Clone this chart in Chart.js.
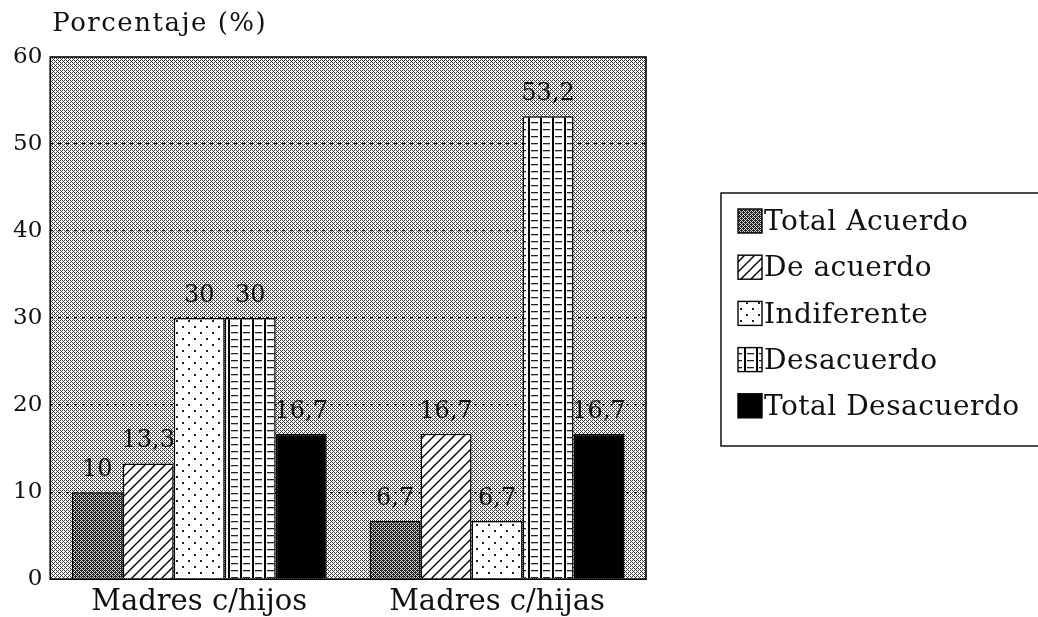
<!DOCTYPE html>
<html>
<head>
<meta charset="utf-8">
<script src="https://cdn.jsdelivr.net/npm/chart.js@4/dist/chart.umd.min.js"></script>
<style>
  html, body { margin: 0; padding: 0; background: #fff; }
  #wrap { width: 1038px; height: 617px; position: relative; }
</style>
</head>
<body>
<div id="wrap"><canvas id="c" width="1038" height="617"></canvas></div>
<script>
// Categories, series and axis ticks
const categories = ['Madres c/hijos', 'Madres c/hijas'];
const seriesNames = ['Total Acuerdo', 'De acuerdo', 'Indiferente', 'Desacuerdo', 'Total Desacuerdo'];
const totalAcuerdo    = [10, 6.7];
const deAcuerdo       = [13.3, 16.7];
const indiferente     = [30, 6.7];
const desacuerdo      = [30, 53.2];
const totalDesacuerdo = [16.7, 16.7];
const yTicks = [0, 10, 20, 30, 40, 50, 60];
const yTitle = 'Porcentaje (%)';

const SERIF = '"DejaVu Serif", "Liberation Serif", serif';

// Small repeating tiles used as fills
function tile(w, h, paint) {
  const c = document.createElement('canvas');
  c.width = w; c.height = h;
  const g = c.getContext('2d');
  paint(g, w, h);
  return g.createPattern(c, 'repeat');
}
function bitmap(rows, on, off) {
  return tile(rows[0].length, rows.length, (g) => {
    rows.forEach((r, y) => {
      for (let x = 0; x < r.length; x++) {
        g.fillStyle = r[x] === '1' ? on : off;
        g.fillRect(x, y, 1, 1);
      }
    });
  });
}

// halftone screen behind the bars
const plotScreen = bitmap(['1010', '0001', '1010', '0100'], '#3a3a3a', '#ffffff');
// mottled dark screen
const darkScreen = bitmap(['1011', '0101', '1110', '0101'], '#202020', '#d8d8d8');
// diagonal hatch
const diagHatch = tile(10, 10, (g, w, h) => {
  g.fillStyle = '#fff'; g.fillRect(0, 0, w, h);
  g.strokeStyle = '#000'; g.lineWidth = 1.4;
  g.beginPath();
  g.moveTo(-1, h + 1); g.lineTo(w + 1, -1);
  g.moveTo(-1, 1); g.lineTo(1, -1);
  g.moveTo(w - 1, h + 1); g.lineTo(w + 1, h - 1);
  g.stroke();
});
// sparse dots
const dotScreen = tile(12, 12, (g, w, h) => {
  g.fillStyle = '#fff'; g.fillRect(0, 0, w, h);
  g.fillStyle = '#222';
  g.fillRect(2, 2, 2, 2);
  g.fillRect(8, 8, 2, 2);
});
// grid of vertical lines and horizontal dashes
const gridHatch = tile(12, 7, (g, w, h) => {
  g.fillStyle = '#fff'; g.fillRect(0, 0, w, h);
  g.fillStyle = '#000';
  g.fillRect(0, 0, 2, h);
  g.fillStyle = '#222';
  g.fillRect(3, 3, 7, 1.3);
});

const fills = [darkScreen, diagHatch, dotScreen, gridHatch, '#000'];
const values = [totalAcuerdo, deAcuerdo, indiferente, desacuerdo, totalDesacuerdo];

const datasets = seriesNames.map((name, i) => ({
  label: name,
  data: values[i],
  backgroundColor: fills[i],
  borderColor: '#000',
  borderWidth: 1.5,
  borderSkipped: 'bottom',
  categoryPercentage: 0.856,
  barPercentage: 1.0
}));

const fmt = (v) => String(v).replace('.', ',');

const decorations = {
  id: 'decorations',
  beforeDraw(chart) {
    const { ctx, chartArea: a } = chart;
    ctx.save();
    ctx.fillStyle = plotScreen;
    ctx.fillRect(a.left, a.top, a.right - a.left, a.bottom - a.top);
    ctx.restore();
  },
  afterDatasetsDraw(chart) {
    const { ctx } = chart;
    ctx.save();
    ctx.font = '24px ' + SERIF;
    ctx.fillStyle = '#111';
    ctx.textAlign = 'center';
    ctx.textBaseline = 'alphabetic';
    chart.data.datasets.forEach((ds, di) => {
      chart.getDatasetMeta(di).data.forEach((bar, i) => {
        ctx.fillText(fmt(ds.data[i]), bar.x, bar.y - 16);
      });
    });
    ctx.restore();
  },
  afterDraw(chart) {
    const { ctx, chartArea: a } = chart;
    ctx.save();
    // plot frame
    ctx.strokeStyle = '#000';
    ctx.lineWidth = 1.6;
    ctx.strokeRect(a.left, a.top, a.right - a.left, a.bottom - a.top);

    // axis title above the plot
    ctx.font = '26px ' + SERIF;
    ctx.letterSpacing = '1.5px';
    ctx.fillStyle = '#111';
    ctx.textAlign = 'left';
    ctx.textBaseline = 'alphabetic';
    ctx.fillText(yTitle, a.left + 2, a.top - 26);

    // legend box
    const bx = a.right + 75, by = a.top + 136, bh = 253;
    ctx.lineWidth = 1.4;
    ctx.strokeRect(bx, by, 1038 - bx + 4, bh);
    ctx.font = '28px ' + SERIF;
    ctx.letterSpacing = '0.5px';
    ctx.textBaseline = 'middle';
    chart.data.datasets.forEach((ds, i) => {
      const cy = by + 28 + i * 46.2;
      ctx.fillStyle = ds.backgroundColor;
      ctx.fillRect(bx + 17, cy - 12, 24, 24);
      ctx.lineWidth = 1.4;
      ctx.strokeRect(bx + 17, cy - 12, 24, 24);
      ctx.fillStyle = '#111';
      ctx.fillText(ds.label, bx + 43, cy + 2);
    });
    ctx.restore();
  }
};

new Chart(document.getElementById('c'), {
  type: 'bar',
  data: { labels: categories, datasets },
  options: {
    responsive: false,
    animation: false,
    layout: { padding: { left: 5, right: 392, top: 57, bottom: -1 } },
    plugins: {
      legend: { display: false },
      tooltip: { enabled: false },
      title: { display: false }
    },
    scales: {
      x: {
        grid: { display: false },
        border: { display: false },
        ticks: {
          color: '#111',
          padding: -2,
          font: { family: SERIF, size: 29 }
        }
      },
      y: {
        min: yTicks[0],
        max: yTicks[yTicks.length - 1],
        afterBuildTicks(axis) { axis.ticks = yTicks.map(v => ({ value: v })); },
        border: { display: false, dash: [3, 5] },
        grid: {
          drawTicks: false,
          lineWidth: 1.3,
          color: (c) => (c.tick && (c.tick.value === yTicks[0] || c.tick.value === yTicks[yTicks.length - 1])) ? 'rgba(0,0,0,0)' : '#000'
        },
        ticks: {
          color: '#111',
          padding: 8,
          font: { family: SERIF, size: 23 }
        }
      }
    }
  },
  plugins: [decorations]
});
</script>
</body>
</html>
